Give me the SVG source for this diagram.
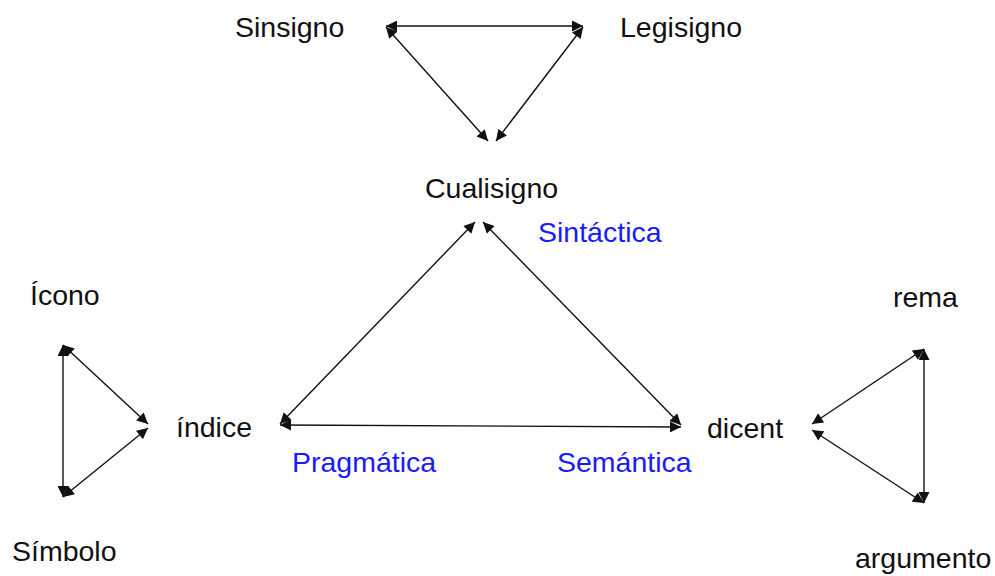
<svg xmlns="http://www.w3.org/2000/svg" width="995" height="576" viewBox="0 0 995 576">
<style>
.lbl{font-family:"Liberation Sans",Arial,sans-serif;font-size:28.5px;fill:#111}
.blue{fill:#1a1aff}
.c{stroke:#111;stroke-width:1.4;fill:none;marker-start:url(#ah);marker-end:url(#ah)}
</style>
<defs>
<marker id="ah" viewBox="0 0 10 10" refX="10" refY="5" markerWidth="12" markerHeight="11" markerUnits="userSpaceOnUse" orient="auto-start-reverse">
<path d="M0,0 L10,5 L0,10 Z" fill="#111"/>
</marker>
</defs>
<rect width="995" height="576" fill="#fff"/>
<g id="connectors">
<line class="c" x1="386" y1="26" x2="583" y2="26"/>
<line class="c" x1="386" y1="27" x2="488" y2="141"/>
<line class="c" x1="583" y1="27" x2="496" y2="141"/>
<line class="c" x1="475" y1="222" x2="280" y2="424"/>
<line class="c" x1="483" y1="222" x2="681" y2="425"/>
<line class="c" x1="280" y1="425" x2="681" y2="427"/>
<line class="c" x1="63" y1="345" x2="63" y2="497"/>
<line class="c" x1="63" y1="345" x2="148" y2="424"/>
<line class="c" x1="63" y1="497" x2="148" y2="428"/>
<line class="c" x1="924" y1="349" x2="924" y2="503"/>
<line class="c" x1="924" y1="349" x2="812" y2="424"/>
<line class="c" x1="924" y1="503" x2="812" y2="430"/>
</g>
<g id="sinsigno"><text class="lbl" x="235" y="37">Sinsigno</text></g>
<g id="legisigno"><text class="lbl" x="620" y="37">Legisigno</text></g>
<g id="cualisigno"><text class="lbl" x="425" y="198">Cualisigno</text></g>
<g id="sintactica"><text class="lbl blue" x="538" y="242">Sintáctica</text></g>
<g id="icono"><text class="lbl" x="30" y="305">Ícono</text></g>
<g id="indice"><text class="lbl" x="176" y="437">índice</text></g>
<g id="pragmatica"><text class="lbl blue" x="292" y="472">Pragmática</text></g>
<g id="semantica"><text class="lbl blue" x="557" y="472">Semántica</text></g>
<g id="dicent"><text class="lbl" x="707" y="438">dicent</text></g>
<g id="rema"><text class="lbl" x="893" y="307">rema</text></g>
<g id="simbolo"><text class="lbl" x="12" y="561">Símbolo</text></g>
<g id="argumento"><text class="lbl" x="855" y="568">argumento</text></g>
</svg>
